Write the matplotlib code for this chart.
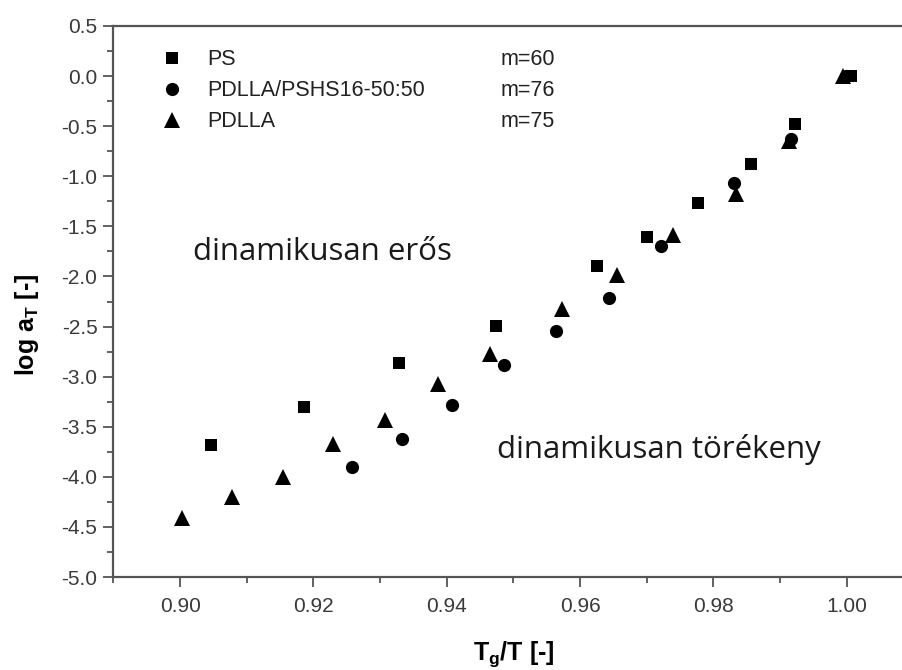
import matplotlib
matplotlib.use("Agg")
import matplotlib.pyplot as plt
from matplotlib.ticker import MultipleLocator

plt.rcParams['font.family'] = ['Liberation Sans', 'DejaVu Sans']
plt.rcParams['mathtext.fontset'] = 'custom'
plt.rcParams['mathtext.rm'] = 'Liberation Sans'
plt.rcParams['mathtext.bf'] = 'Liberation Sans:bold'

# Tg/T and log aT for each material
ps_x = [0.9046, 0.9186, 0.9328, 0.9474, 0.9625, 0.9701, 0.9777, 0.9856, 0.9923, 1.0006]
ps_y = [-3.68, -3.30, -2.86, -2.49, -1.90, -1.61, -1.27, -0.88, -0.48, 0.0]

blend_x = [0.9258, 0.9333, 0.9408, 0.9486, 0.9564, 0.9643, 0.9721, 0.9831, 0.9917, 0.9999]
blend_y = [-3.90, -3.62, -3.28, -2.88, -2.545, -2.22, -1.70, -1.07, -0.63, 0.0]

pdlla_x = [0.9003, 0.9078, 0.9154, 0.9230, 0.9307, 0.9387, 0.9465, 0.9573, 0.9655, 0.9739, 0.9834, 0.9914, 0.9994]
pdlla_y = [-4.41, -4.205, -4.00, -3.67, -3.43, -3.07, -2.77, -2.32, -1.99, -1.59, -1.18, -0.65, 0.0]

labels = ['PS', 'PDLLA/PSHS16-50:50', 'PDLLA']
fragility = ['m=60', 'm=76', 'm=75']

fig = plt.figure(figsize=(9.02, 6.70), dpi=100)
ax = fig.add_axes([0.1258, 0.1388, 0.8869, 0.8224])

h1, = ax.plot(ps_x, ps_y, 's', color='black', ms=9, mew=0, label=labels[0])
h2, = ax.plot(blend_x, blend_y, 'o', color='black', ms=9.5, mew=0, label=labels[1])
h3, = ax.plot(pdlla_x, pdlla_y, '^', color='black', ms=11, mew=0, label=labels[2])

ax.set_xlim(0.89, 1.01)
ax.set_ylim(-5.0, 0.5)
ax.xaxis.set_major_locator(MultipleLocator(0.02))
ax.xaxis.set_minor_locator(MultipleLocator(0.01))
ax.yaxis.set_major_locator(MultipleLocator(0.5))
ax.yaxis.set_minor_locator(MultipleLocator(0.25))
ax.xaxis.set_major_formatter(matplotlib.ticker.FormatStrFormatter('%.2f'))
ax.yaxis.set_major_formatter(matplotlib.ticker.FormatStrFormatter('%.1f'))

for s in ax.spines.values():
    s.set_color('#555555')
    s.set_linewidth(1.6)
ax.tick_params(which='both', direction='out', colors='#555555', labelcolor='#3a3a3a',
               labelsize=15, width=1.3)
ax.tick_params(which='major', length=7.5)
ax.tick_params(axis='y', which='major', pad=4)
ax.tick_params(axis='x', which='major', pad=7)
ax.tick_params(which='minor', length=4)

ax.set_xlabel(r'T$_\mathbf{g}$/T [-]', fontsize=18, fontweight='bold')
ax.set_ylabel(r'log a$_\mathbf{T}$ [-]', fontsize=18, fontweight='bold')
ax.xaxis.set_label_coords(0.5, -0.113)
ax.yaxis.set_label_coords(-0.09, 0.457)

leg = ax.legend(handles=[h1, h2, h3], loc='upper left', bbox_to_anchor=(0.049, 0.973),
                frameon=False, fontsize=15.5, handletextpad=1.15, labelspacing=0.46,
                handlelength=1.0, borderaxespad=0, labelcolor='#222222')

rows = [0.9396, 0.8830, 0.8267]
for r, m in zip(rows, fragility):
    ax.text(0.484, r, m, transform=ax.transAxes, fontsize=15.5, color='#222222',
            va='center')

ax.text(0.0995, 0.575, 'dinamikusan erős', transform=ax.transAxes,
        fontsize=22.5, color='#1a1a1a', family=['Open Sans', 'DejaVu Sans'])
ax.text(0.4795, 0.2165, 'dinamikusan törékeny', transform=ax.transAxes,
        fontsize=22.5, color='#1a1a1a', family=['Open Sans', 'DejaVu Sans'])

fig.savefig('out.png', dpi=100)
